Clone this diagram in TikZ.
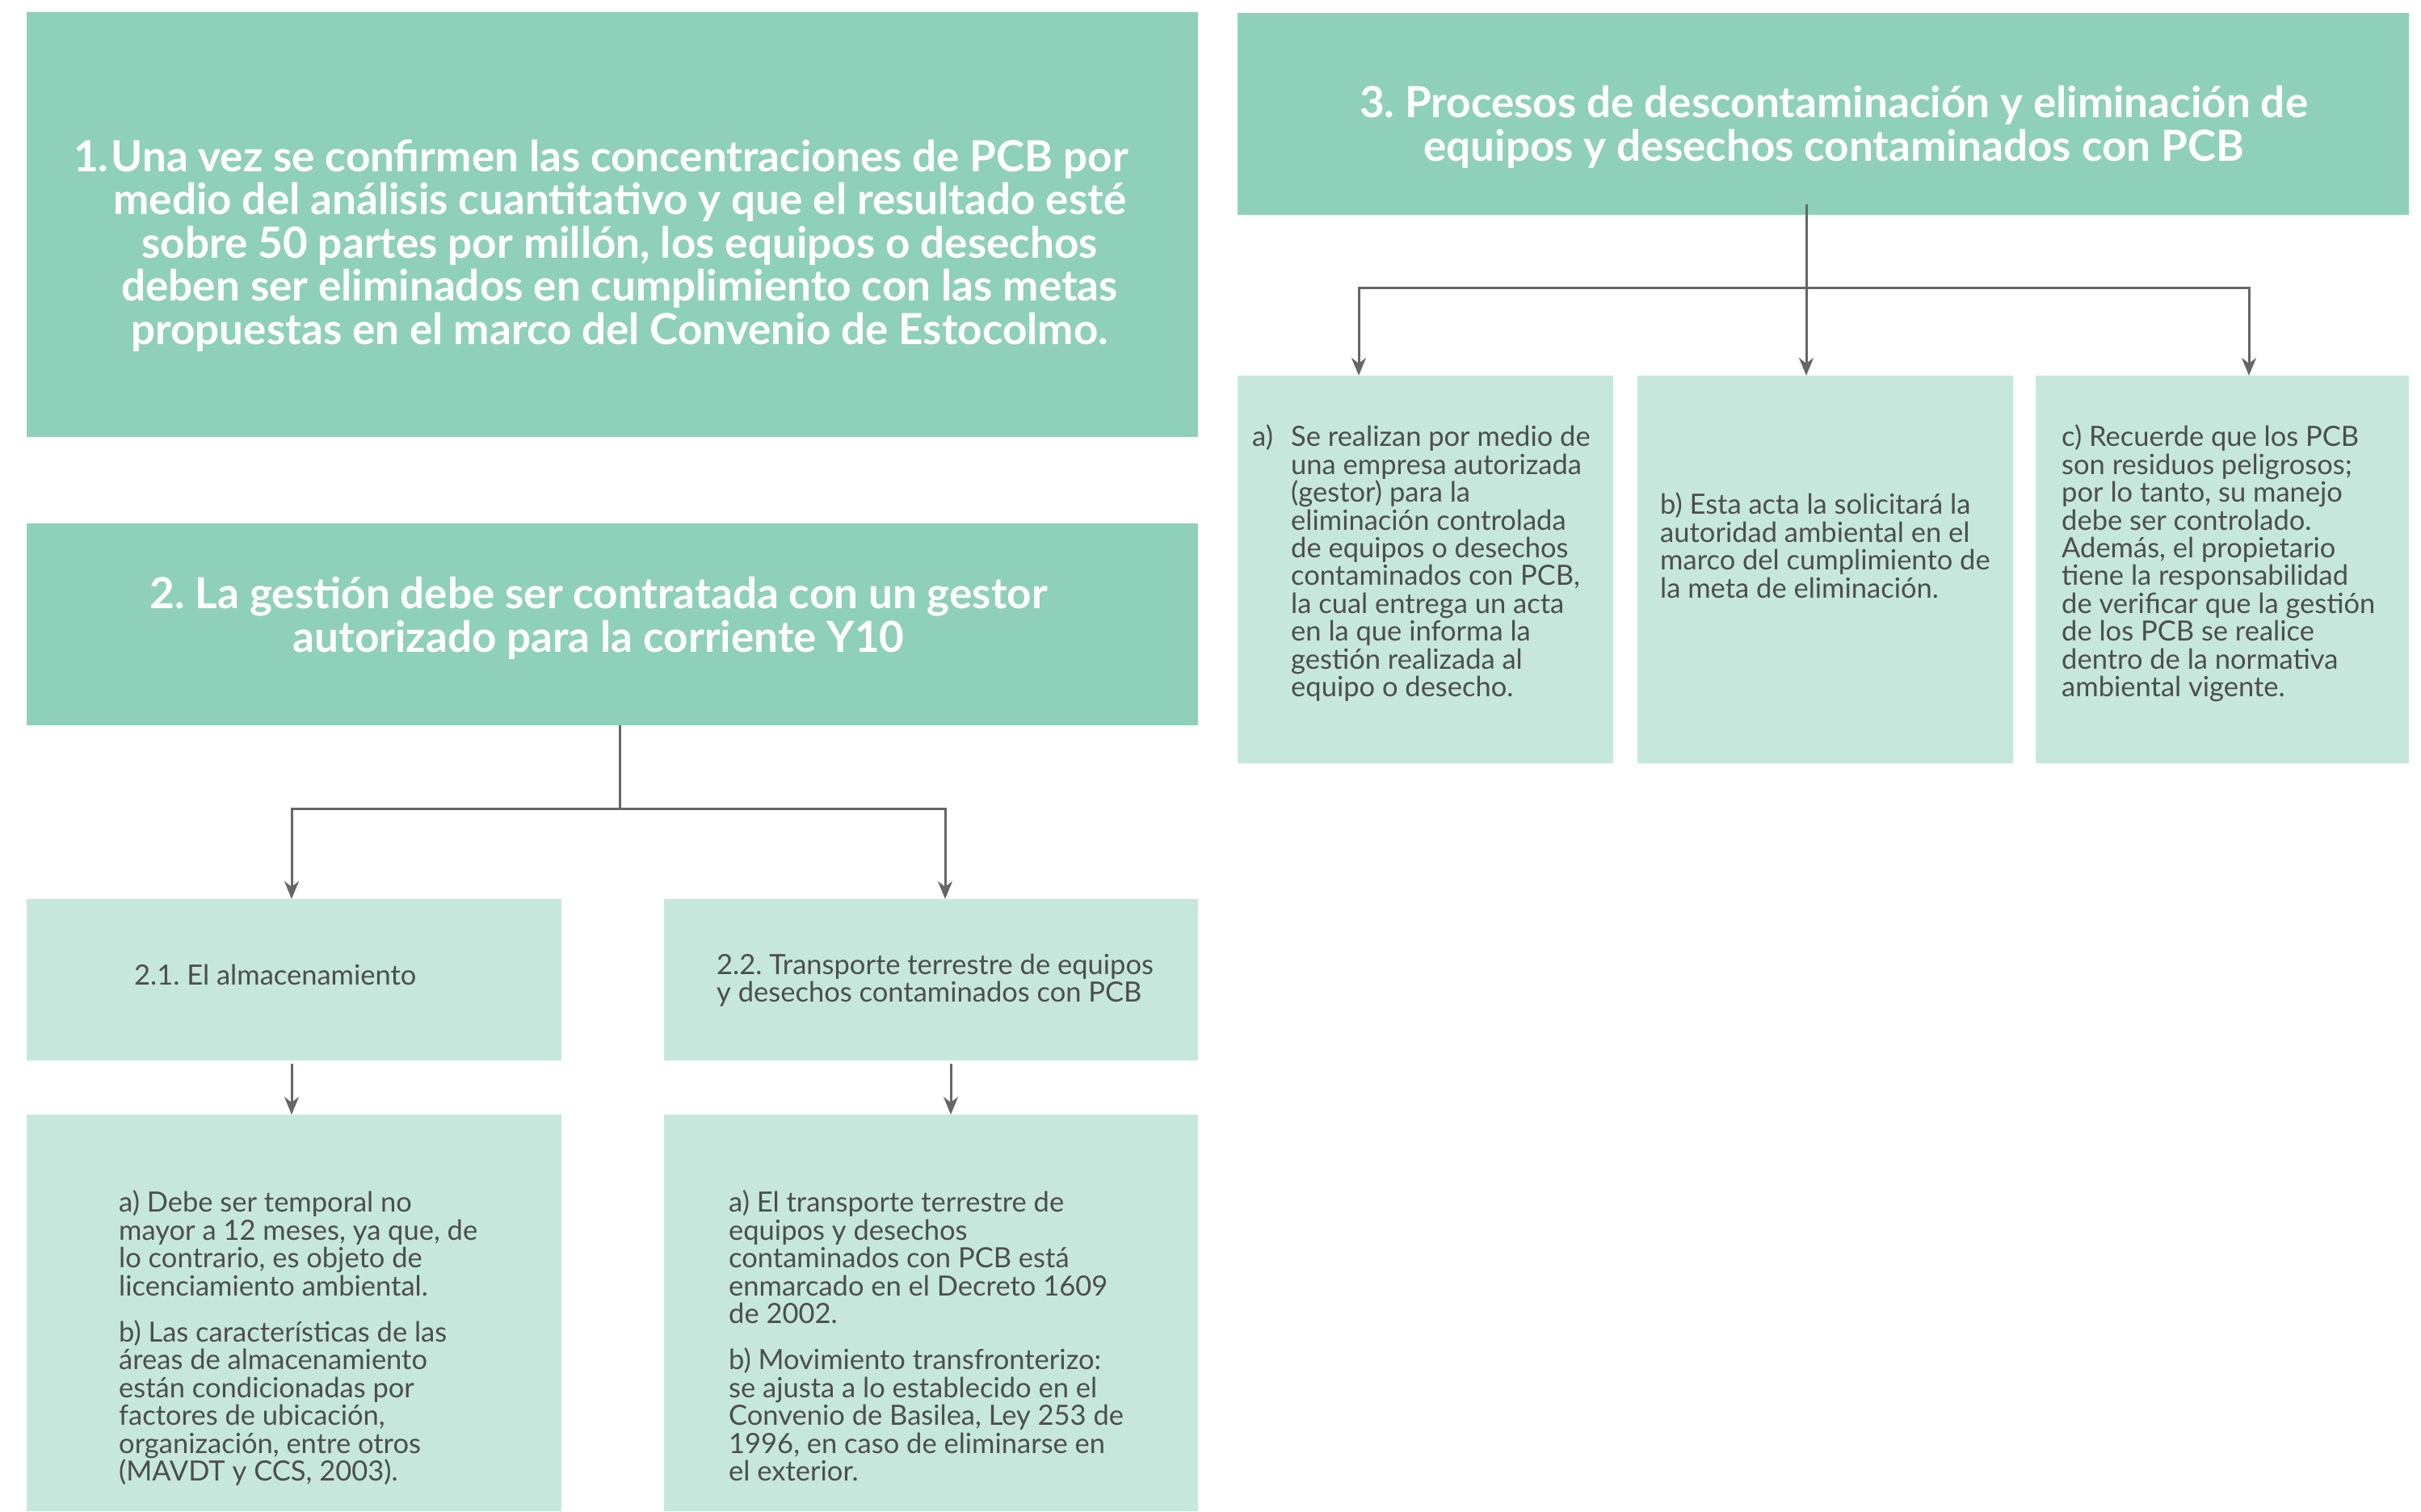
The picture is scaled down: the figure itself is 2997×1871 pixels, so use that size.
\documentclass[tikz,border=0pt]{standalone}
\usepackage{fontspec}
\setmainfont{Lato}
\usetikzlibrary{arrows.meta}
\definecolor{darkg}{HTML}{8FD0BA}
\definecolor{lightg}{HTML}{C6E8DC}
\definecolor{txt}{HTML}{4D4D4D}
\definecolor{ln}{HTML}{666666}
\frenchspacing
\begin{document}
\begin{tikzpicture}[x=1pt,y=-1pt,
  darkbox/.style={fill=darkg,draw=none,inner sep=0pt,outer sep=0pt},
  lightbox/.style={fill=lightg,draw=none,inner sep=0pt,outer sep=0pt},
  titletext/.style={text=white,font=\fontsize{53}{53.5}\selectfont\bfseries,align=center,inner sep=0pt},
  bodytext/.style={text=txt,font=\fontsize{34.5}{34.4}\selectfont,align=left,inner sep=0pt},
  conn/.style={draw=ln,line width=3pt},
  arr/.style={conn,-{Stealth[length=22pt,width=18pt,inset=7pt]}}]
\useasboundingbox (0,0) rectangle (2997,1871);
% boxes
\node[darkbox,minimum width=1450,minimum height=526] (b1) at (758,278) {};
\node[darkbox,minimum width=1450,minimum height=250] (b2) at (758,773) {};
\node[lightbox,minimum width=662,minimum height=200] (b21) at (364,1213) {};
\node[lightbox,minimum width=661,minimum height=200] (b22) at (1152.5,1213) {};
\node[lightbox,minimum width=662,minimum height=491] (b21a) at (364,1625.5) {};
\node[lightbox,minimum width=661,minimum height=491] (b22a) at (1152.5,1625.5) {};
\node[darkbox,minimum width=1450,minimum height=250] (b3) at (2257,141) {};
\node[lightbox,minimum width=465,minimum height=480] (b3a) at (1764.5,705) {};
\node[lightbox,minimum width=465,minimum height=480] (b3b) at (2259.5,705) {};
\node[lightbox,minimum width=462,minimum height=480] (b3c) at (2751,705) {};
% texts
\node[titletext] (t1) at (767,304) {\llap{1.\hspace{3pt}}Una vez se confirmen las concentraciones de PCB por\\
medio del análisis cuantitativo y que el resultado esté\\
sobre 50 partes por millón, los equipos o desechos\\
deben ser eliminados en cumplimiento con las metas\\
propuestas en el marco del Convenio de Estocolmo.};
\node[titletext] (t2) at (741,765) {2. La gestión debe ser contratada con un gestor\\
autorizado para la corriente Y10};
\node[titletext] (t3) at (2270,157) {3. Procesos de descontaminación y eliminación de\\
equipos y desechos contaminados con PCB};
\node[bodytext,anchor=west] (t21) at (166,1207) {2.1. El almacenamiento};
\node[bodytext,anchor=west] (t22) at (887,1214) {2.2. Transporte terrestre de equipos\\
y desechos contaminados con PCB};
\node[bodytext,anchor=north west] (t21a) at (147,1474) {a) Debe ser temporal no\\
mayor a 12 meses, ya que, de\\
lo contrario, es objeto de\\
licenciamiento ambiental.\\[23pt]
b) Las características de las\\
áreas de almacenamiento\\
están condicionadas por\\
factores de ubicación,\\
organización, entre otros\\
(MAVDT y CCS, 2003).};
\node[bodytext,anchor=north west] (t22a) at (902,1474) {a) El transporte terrestre de\\
equipos y desechos\\
contaminados con PCB está\\
enmarcado en el Decreto 1609\\
de 2002.\\[23pt]
b) Movimiento transfronterizo:\\
se ajusta a lo establecido en el\\
Convenio de Basilea, Ley 253 de\\
1996, en caso de eliminarse en\\
el exterior.};
\node[bodytext,anchor=north west] (t3a) at (1598,526) {\makebox[0pt][r]{\makebox[48pt][l]{a)}}Se realizan por medio de\\
una empresa autorizada\\
(gestor) para la\\
eliminación controlada\\
de equipos o desechos\\
contaminados con PCB,\\
la cual entrega un acta\\
en la que informa la\\
gestión realizada al\\
equipo o desecho.};
\node[bodytext,anchor=north west] (t3b) at (2055,610) {b) Esta acta la solicitará la\\
autoridad ambiental en el\\
marco del cumplimiento de\\
la meta de eliminación.};
\node[bodytext,anchor=north west] (t3c) at (2552,526) {c) Recuerde que los PCB\\
son residuos peligrosos;\\
por lo tanto, su manejo\\
debe ser controlado.\\
Además, el propietario\\
tiene la responsabilidad\\
de verificar que la gestión\\
de los PCB se realice\\
dentro de la normativa\\
ambiental vigente.};
% connectors
\coordinate (j2) at (767,1001);
\draw[conn] (b2.south -| j2) -- (j2);
\draw[arr] (j2) -| ([xshift=-3pt]b21.north);
\draw[arr] (j2) -| ([xshift=17.5pt]b22.north);
\draw[arr] ([xshift=-3pt,yshift=-4pt]b21.south) -- ([xshift=-3pt]b21a.north);
\draw[arr] ([xshift=24.5pt,yshift=-4pt]b22.south) -- ([xshift=24.5pt]b22a.north);
\coordinate (j3) at (2236,356);
\draw[conn] ([yshift=13pt]b3.south -| j3) -- (j3);
\draw[arr] (j3) -| ([xshift=-82.5pt]b3a.north);
\draw[arr] (j3) -- (b3b.north -| j3);
\draw[arr] (j3) -| ([xshift=33pt]b3c.north);
\end{tikzpicture}
\end{document}
